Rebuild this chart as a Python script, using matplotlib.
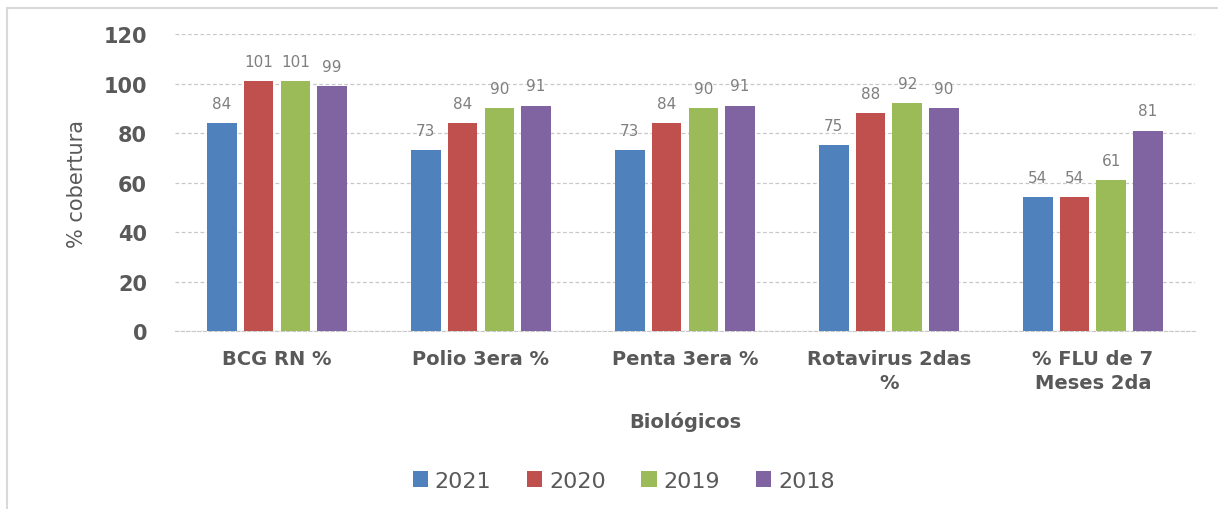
import numpy as np
import matplotlib
matplotlib.use("Agg")
import matplotlib.pyplot as plt
from matplotlib.patches import Rectangle

plt.rcParams['font.family'] = ['DejaVu Sans']

# Données
categorias = ["BCG RN %", "Polio 3era %", "Penta 3era %", "Rotavirus 2das\n%", "% FLU de 7\nMeses 2da"]
anios = ["2021", "2020", "2019", "2018"]
v2021 = [84, 73, 73, 75, 54]
v2020 = [101, 84, 84, 88, 54]
v2019 = [101, 90, 90, 92, 61]
v2018 = [99, 91, 91, 90, 81]
colores = ["#4F81BD", "#C0504D", "#9BBB59", "#8064A2"]

series = [v2021, v2020, v2019, v2018]
texto = "#595959"

fig = plt.figure(figsize=(12.18, 5.10), dpi=100)
ax = fig.add_axes([0.1437, 0.349, 0.8373, 0.582])

x = np.arange(len(categorias))
paso = 0.18
ancho = 0.145
for i, (vals, anio, col) in enumerate(zip(series, anios, colores)):
    pos = x + (i - 1.5) * paso
    barras = ax.bar(pos, vals, width=ancho, color=col, label=anio, zorder=3)
    for b, v in zip(barras, vals):
        ax.annotate(str(v), (b.get_x() + b.get_width() / 2, v), xytext=(0, 9),
                    textcoords="offset points", ha="center", va="bottom",
                    fontsize=11, color="#7F7F7F")

ax.set_xlim(-0.5, len(categorias) - 0.5)
ax.set_ylim(0, 120)
ax.set_yticks(range(0, 121, 20))
ax.yaxis.grid(True, linestyle=(0, (3, 2)), color="#C8C8C8", linewidth=0.9, zorder=0)
for s in ["top", "right", "left"]:
    ax.spines[s].set_visible(False)
ax.spines["bottom"].set_color("#C8C8C8")
ax.spines["bottom"].set_linestyle((0, (3, 2)))
ax.tick_params(axis="both", length=0)
ax.tick_params(axis="y", pad=20, labelsize=15, labelcolor=texto)
ax.tick_params(axis="x", pad=13, labelsize=14, labelcolor=texto)
ax.set_xticks(x)
ax.set_xticklabels(categorias, linespacing=1.3)
for t in ax.get_yticklabels() + ax.get_xticklabels():
    t.set_fontweight("bold")

ax.set_ylabel("% cobertura", fontsize=15, color=texto, labelpad=12)
ax.set_xlabel("Biológicos", fontsize=14, color=texto, fontweight="bold", labelpad=14)

fig.legend(loc="center", bbox_to_anchor=(0.512, 0.055), ncol=4, frameon=False,
           fontsize=16, handlelength=0.7, handleheight=0.7, handletextpad=0.3,
           columnspacing=1.6, labelcolor=texto)

# Cadre gris autour de la figure
fig.patches.append(Rectangle((0.006, -0.05), 1.1, 1.033, transform=fig.transFigure,
                             fill=False, edgecolor="#D9D9D9", linewidth=1.5))

fig.savefig("out.png", dpi=100)
